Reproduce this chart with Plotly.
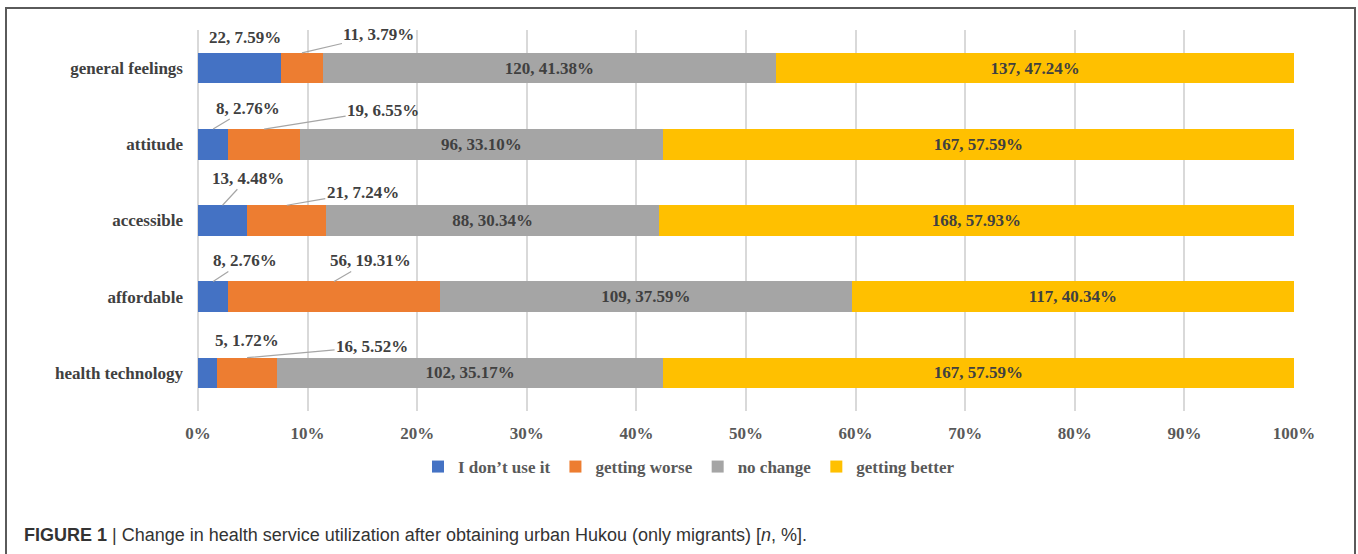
import plotly.graph_objects as go

# ---------------- data ----------------
categories = ["general feelings", "attitude", "accessible", "affordable", "health technology"]
series_names = ["I don\u2019t use it", "getting worse", "no change", "getting better"]

dont_use_n = [22, 8, 13, 8, 5]
dont_use_pct = [7.59, 2.76, 4.48, 2.76, 1.72]
worse_n = [11, 19, 21, 56, 16]
worse_pct = [3.79, 6.55, 7.24, 19.31, 5.52]
nochange_n = [120, 96, 88, 109, 102]
nochange_pct = [41.38, 33.10, 30.34, 37.59, 35.17]
better_n = [137, 167, 168, 117, 167]
better_pct = [47.24, 57.59, 57.93, 40.34, 57.59]

x_ticks = list(range(0, 101, 10))
x_ticklabels = [f"{v}%" for v in x_ticks]

# ---------------- styles ----------------
colors = ["#4472C4", "#ED7D31", "#A5A5A5", "#FFC000"]
SERIF = "Liberation Serif, Times New Roman, serif"
FS = 17
W, H = 1358, 554
ML, MR, MT, MB = 198, 64, 30, 143
BARGAP = 0.6

# label offsets (px) of outside labels relative to top of their segment
blue_off = [(5, -15, False), (35, -21, True), (25, -27, True), (32, -21, True), (40, -17, False)]
orange_off = [(77, -18, True), (119, -19, True), (76, -13, True), (36, -21, True), (125, -11, True)]

fig = go.Figure()
all_n = [dont_use_n, worse_n, nochange_n, better_n]
all_pct = [dont_use_pct, worse_pct, nochange_pct, better_pct]
for k in range(4):
    inside = k >= 2
    fig.add_trace(go.Bar(
        y=categories, x=all_pct[k], orientation="h", name=series_names[k],
        marker=dict(color=colors[k], line=dict(width=0)),
        text=[f"{n}, {p:.2f}%" for n, p in zip(all_n[k], all_pct[k])] if inside else None,
        textposition="inside" if inside else "none",
        insidetextanchor="middle", textangle=0, constraintext="none",
        textfont=dict(family=SERIF, size=FS, color="#404040", weight="bold"),
        hoverinfo="skip",
    ))

half = (1 - BARGAP) / 2
for k, offs in [(0, blue_off), (1, orange_off)]:
    for i, cat in enumerate(categories):
        start = sum(all_pct[j][i] for j in range(k))
        xc = start + all_pct[k][i] / 2
        ax, ay, leader = offs[i]
        fig.add_annotation(
            x=xc, y=i - half, xref="x", yref="y",
            text=f"{all_n[k][i]}, {all_pct[k][i]:.2f}%",
            showarrow=True, ax=ax, ay=ay, arrowhead=0, arrowwidth=1.2,
            arrowcolor="#A6A6A6" if leader else "rgba(0,0,0,0)",
            font=dict(family=SERIF, size=FS, color="#404040", weight="bold"),
            borderpad=1,
        )

def px2paper_x(px):
    return (px - ML) / (W - ML - MR)

def px2paper_y(py):
    return (H - MB - py) / (H - MT - MB)

# outer frame
fig.add_shape(type="rect", xref="paper", yref="paper",
              x0=px2paper_x(6), x1=px2paper_x(1355), y0=px2paper_y(570), y1=px2paper_y(8),
              line=dict(color="#5a5a5a", width=2), fillcolor="rgba(0,0,0,0)", layer="below")

# caption
fig.add_annotation(
    xref="paper", yref="paper", x=px2paper_x(22), y=px2paper_y(535),
    xanchor="left", yanchor="middle", showarrow=False,
    text="<b>FIGURE 1</b> | Change in health service utilization after obtaining urban Hukou (only migrants) [<i>n</i>, %].",
    font=dict(family="Liberation Sans Narrow, Arial Narrow, Liberation Sans, Arial, sans-serif", size=18, color="#333333"),
)

fig.update_layout(
    width=W, height=H,
    margin=dict(l=ML, r=MR, t=MT, b=MB, pad=0),
    barmode="stack", bargap=BARGAP,
    plot_bgcolor="white", paper_bgcolor="white",
    showlegend=True,
    legend=dict(orientation="h", x=px2paper_x(689), xanchor="center",
                y=px2paper_y(467), yanchor="middle",
                font=dict(family=SERIF, size=FS, color="#595959", weight="bold"),
                itemwidth=30, tracegroupgap=0, traceorder="normal"),
    xaxis=dict(range=[0, 100], tickvals=x_ticks, ticktext=x_ticklabels,
               showgrid=True, gridcolor="#D9D9D9", gridwidth=1.5,
               zeroline=True, zerolinecolor="#D9D9D9", zerolinewidth=1.5,
               showline=False, ticks="", ticklabelstandoff=10,
               tickfont=dict(family=SERIF, size=FS, color="#595959", weight="bold"),
               fixedrange=True),
    yaxis=dict(categoryorder="array", categoryarray=categories, autorange="reversed",
               showgrid=False, zeroline=False, showline=False, ticks="",
               ticklabelstandoff=14,
               tickfont=dict(family=SERIF, size=FS, color="#404040", weight="bold"),
               fixedrange=True),
)

fig.write_html("out.html", config={"displayModeBar": False},
               post_script="document.body.style.margin='0px';")
